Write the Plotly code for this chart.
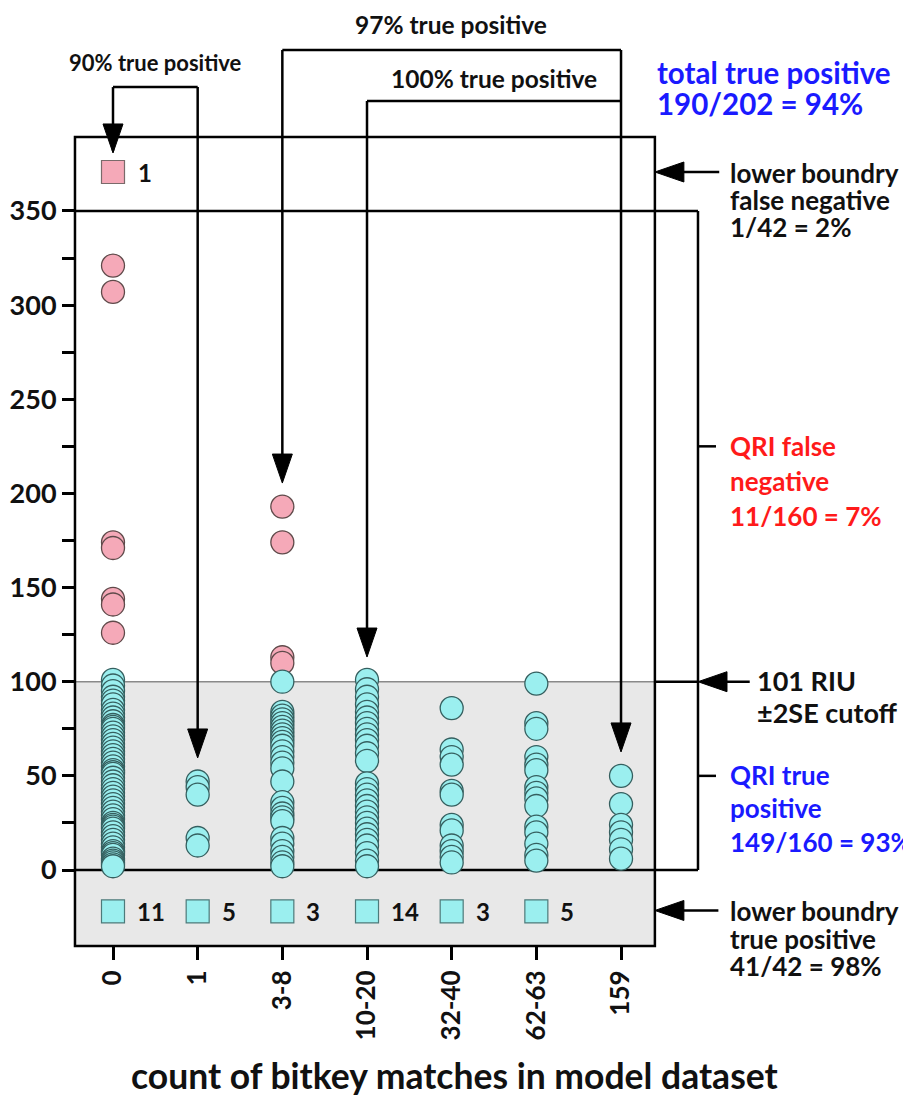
import plotly.graph_objects as go

# ---------------- data ----------------
categories = ["0", "1", "3-8", "10-20", "32-40", "62-63", "159"]

# QRI true positive values (cyan circles), per category
tp_cat_0 = [101, 98, 95, 92, 90, 88, 85, 83, 81, 79, 77, 76, 75, 73, 71, 69, 67, 65,
            63, 61, 59, 57, 55, 53, 52, 51, 49, 47, 45, 43, 41, 39, 37, 35, 33, 31,
            29, 27, 25, 24, 23, 22, 20, 18, 16, 14, 12, 10, 9, 8, 6, 5, 4, 3, 2]
tp_cat_1 = [47, 44, 40, 17, 13]
tp_cat_3_8 = [100, 84, 82, 80, 78, 76, 74, 72, 70, 68, 66, 63, 60, 57, 54, 47, 36,
              33, 30, 28, 26, 17, 14, 10, 7, 4, 2]
tp_cat_10_20 = [101, 96, 92, 88, 84, 81, 78, 75, 72, 69, 66, 62, 58, 46, 43, 40, 37,
                34, 31, 28, 25, 22, 19, 16, 13, 9, 5, 2]
tp_cat_32_40 = [86, 64, 60, 56, 42, 40, 24, 21, 13, 10, 7, 4]
tp_cat_62_63 = [99, 78, 75, 60, 56, 53, 44, 41, 38, 34, 23, 20, 14, 8, 5]
tp_cat_159 = [50, 35, 24, 20, 16, 11, 6]
tp_values = [tp_cat_0, tp_cat_1, tp_cat_3_8, tp_cat_10_20, tp_cat_32_40, tp_cat_62_63, tp_cat_159]

# QRI false negative values (pink circles)
fn_cat_0 = [321, 307, 174, 171, 144, 141, 126]
fn_cat_3_8 = [193, 174, 113, 110]
fn_values = [fn_cat_0, [], fn_cat_3_8, [], [], [], []]

# lower-boundary counts (squares)
lower_fn_counts = [1, None, None, None, None, None, None]       # pink square (top band)
lower_tp_counts = [11, 5, 3, 14, 3, 5, None]                  # cyan squares (bottom band)

# ---------------- layout geometry ----------------
OFF = 8                      # page body margin of the browser
W, H = 911 - OFF, 1101 - OFF
PLOT_LEFT, PLOT_TOP, PLOT_BOTTOM = 65, 8, 990     # in page pixels
ML, MR, MT = PLOT_LEFT - OFF, 0, PLOT_TOP - OFF
MB = H - (PLOT_BOTTOM - OFF)
XR = [-0.5669, 9.4248]
YR = [-63.73, 457.8]
PW, PH = W - ML - MR, H - MT - MB
PXX = PW / (XR[1] - XR[0])   # px per x unit
PXY = PH / (YR[1] - YR[0])   # px per y unit

BOX_X0, BOX_X1 = -0.449, 6.40
BOX_Y0, BOX_Y1 = -40.4, 389.3
CUTOFF = 100
TOP_LINE = 350
BRACKET_X = 6.909
UPPER_BAND_Y = 370.7
LOWER_BAND_Y = -22

CYAN = "#9befef"
CYAN_EDGE = "#355f5f"
PINK = "#f5a9b8"
PINK_EDGE = "#5f4a4a"
BLUE = "#1a1aff"
RED = "#ff1a1a"
INK = "#111111"
FONT = "Lato"

fig = go.Figure()

# pink (false negative) circles
fx, fy = [], []
for i, vals in enumerate(fn_values):
    fx += [i] * len(vals)
    fy += vals
fig.add_trace(go.Scatter(x=fx, y=fy, mode="markers", name="QRI false negative",
                         marker=dict(symbol="circle", size=23, color=PINK,
                                     line=dict(color=PINK_EDGE, width=1.3))))

# cyan (true positive) circles
tx, ty = [], []
for i, vals in enumerate(tp_values):
    tx += [i] * len(vals)
    ty += vals
fig.add_trace(go.Scatter(x=tx, y=ty, mode="markers", name="QRI true positive",
                         marker=dict(symbol="circle", size=23, color=CYAN,
                                     line=dict(color=CYAN_EDGE, width=1.3))))

# squares
sq_fx = [i for i, c in enumerate(lower_fn_counts) if c is not None]
fig.add_trace(go.Scatter(x=sq_fx, y=[UPPER_BAND_Y] * len(sq_fx), mode="markers",
                         marker=dict(symbol="square", size=23, color=PINK,
                                     line=dict(color="#7a6a6a", width=1.2))))
sq_tx = [i for i, c in enumerate(lower_tp_counts) if c is not None]
fig.add_trace(go.Scatter(x=sq_tx, y=[LOWER_BAND_Y] * len(sq_tx), mode="markers",
                         marker=dict(symbol="square", size=23, color=CYAN,
                                     line=dict(color="#4d7a7a", width=1.2))))

shapes = []
LW = 2.5


def line(x0, y0, x1, y1, color="black", width=LW):
    shapes.append(dict(type="line", x0=x0, y0=y0, x1=x1, y1=y1, xref="x", yref="y",
                       layer="below", line=dict(color=color, width=width)))


AH_L, AH_W = 29, 10  # arrowhead length / half-width in px


def arrow_down(x, y_tip):
    hw = AH_W / PXX
    L = AH_L / PXY
    shapes.append(dict(type="path", xref="x", yref="y", layer="below",
                       path=f"M {x - hw},{y_tip + L} L {x + hw},{y_tip + L} L {x},{y_tip} Z",
                       fillcolor="black", line=dict(color="black", width=1)))


def arrow_left(x_tip, y, x_tail):
    L = AH_L / PXX
    hw = AH_W / PXY
    line(x_tail, y, x_tip + L * 0.5, y)
    shapes.append(dict(type="path", xref="x", yref="y", layer="below",
                       path=f"M {x_tip + L},{y + hw} L {x_tip + L},{y - hw} L {x_tip},{y} Z",
                       fillcolor="black", line=dict(color="black", width=1)))


# shaded true-positive band
shapes.append(dict(type="rect", x0=BOX_X0, x1=BOX_X1, y0=BOX_Y0, y1=CUTOFF, xref="x", yref="y",
                   layer="below", fillcolor="#e8e8e8", line=dict(width=0)))
line(BOX_X0, CUTOFF, BOX_X1, CUTOFF, color="#8a8a8a", width=1.5)
line(BOX_X1, CUTOFF, BRACKET_X, CUTOFF)
line(BOX_X0, 0, BRACKET_X, 0)
line(BOX_X0, TOP_LINE, BRACKET_X, TOP_LINE)
line(BRACKET_X, 0, BRACKET_X, TOP_LINE)
line(BRACKET_X, (TOP_LINE + CUTOFF) / 2, BRACKET_X + 18 / PXX, (TOP_LINE + CUTOFF) / 2)
line(BRACKET_X, CUTOFF / 2, BRACKET_X + 18 / PXX, CUTOFF / 2)
# outer box
shapes.append(dict(type="rect", x0=BOX_X0, x1=BOX_X1, y0=BOX_Y0, y1=BOX_Y1, xref="x", yref="y",
                   layer="below", line=dict(color="black", width=LW)))

# 90% bracket (categories 0 and 1)
y90 = 415.8
line(0, y90, 1, y90)
line(0, y90, 0, 382)
arrow_down(0, 380.8)
line(1, y90, 1, 62)
arrow_down(1, 59.5)
# 97% bracket (categories 3-8 .. 159)
y97 = 435.5
line(2, y97, 6, y97)
line(2, y97, 2, 208)
arrow_down(2, 205.5)
line(6, y97, 6, 65)
arrow_down(6, 62.7)
# 100% bracket (categories 10-20 .. 159)
y100 = 408.4
line(3, y100, 6, y100)
line(3, y100, 3, 116)
arrow_down(3, 113.1)

# left-pointing arrows on the right
arrow_left(BOX_X1, UPPER_BAND_Y, 7.16)
arrow_left(BRACKET_X, CUTOFF, 7.52)
arrow_left(BOX_X1, -21.5, 7.15)

annotations = []


def text(x, y, s, size, color=INK, xanchor="left", xref="x", yref="y"):
    annotations.append(dict(x=x, y=y, xref=xref, yref=yref, text=s, showarrow=False,
                            xanchor=xanchor, yanchor="middle",
                            font=dict(family=FONT, size=size, color=color, weight="bold")))


text(0.496, 429.1, "90% true positive", 22, xanchor="center")
text(3.99, 448.8, "97% true positive", 24.5, xanchor="center")
text(4.50, 420.6, "100% true positive", 24.5, xanchor="center")
text(6.40, 423.8, "total true positive", 29.5, color=BLUE)
text(6.40, 407.3, "190/202 = 94%", 29.5, color=BLUE)

RX = 7.263
text(RX, 370.2, "lower boundry", 26)
text(RX, 355.8, "false negative", 26)
text(RX, 341.5, "1/42 = 2%", 26)
text(RX, 225.2, "QRI false", 26, color=RED)
text(RX, 206.6, "negative", 26, color=RED)
text(RX, 188.0, "11/160 = 7%", 26, color=RED)
text(7.58, 100.4, "101 RIU", 27)
text(7.58, 83.4, "±2SE cutoff", 27)
text(RX, 50.5, "QRI true", 26, color=BLUE)
text(RX, 32.9, "positive", 26, color=BLUE)
text(RX, 14.9, "149/160 = 93%", 26, color=BLUE)
text(RX, -21.8, "lower boundry", 26)
text(RX, -36.6, "true positive", 26)
text(RX, -51.0, "41/42 = 98%", 26)

# square count labels
for i, c in enumerate(lower_fn_counts):
    if c is not None:
        text(i + 0.27, UPPER_BAND_Y, str(c), 24)
for i, c in enumerate(lower_tp_counts):
    if c is not None:
        text(i + 0.26, LOWER_BAND_Y, str(c), 24)

# x-axis title (page position x=455, y=1075)
text((455 - PLOT_LEFT) / PW, (PLOT_BOTTOM - 1075) / PH, "count of bitkey matches in model dataset", 35.5,
     xanchor="center", xref="paper", yref="paper")

ytick_vals = list(range(0, 351, 25))
ytick_text = [str(v) if v % 50 == 0 else "" for v in ytick_vals]

fig.update_layout(
    width=W, height=H,
    margin=dict(l=ML, r=MR, t=MT, b=MB, pad=0),
    paper_bgcolor="white", plot_bgcolor="rgba(0,0,0,0)",
    showlegend=False,
    shapes=shapes, annotations=annotations,
    xaxis=dict(range=XR, anchor="free", position=(PLOT_BOTTOM - 946) / PH,
               tickmode="array", tickvals=list(range(len(categories))), ticktext=categories,
               tickangle=-90, ticks="outside", ticklen=13, tickwidth=2.5, tickcolor="black",
               showgrid=False, zeroline=False, showline=False,
               tickfont=dict(family=FONT, size=26, color=INK, weight="bold")),
    yaxis=dict(range=YR, anchor="free", position=(75 - PLOT_LEFT) / PW,
               tickmode="array", tickvals=ytick_vals, ticktext=ytick_text,
               ticks="outside", ticklen=13, tickwidth=2.5, tickcolor="black",
               showgrid=False, zeroline=False, showline=False,
               tickfont=dict(family=FONT, size=27, color=INK, weight="bold")),
)

fig.write_html("out.html")
